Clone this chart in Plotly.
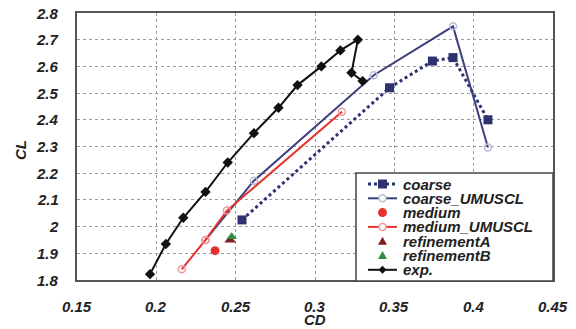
import plotly.graph_objects as go

# ---- data -------------------------------------------------------------
exp_cd = [0.196, 0.206, 0.217, 0.231, 0.245, 0.2615, 0.277, 0.289, 0.304, 0.316, 0.327, 0.323, 0.330]
exp_cl = [1.822, 1.935, 2.033, 2.13, 2.24, 2.35, 2.445, 2.53, 2.60, 2.66, 2.70, 2.576, 2.545]

coarse_cd = [0.254, 0.347, 0.374, 0.387, 0.409]
coarse_cl = [2.025, 2.52, 2.62, 2.633, 2.40]

coarse_umuscl_cd = [0.231, 0.2615, 0.337, 0.387, 0.409]
coarse_umuscl_cl = [1.95, 2.172, 2.567, 2.75, 2.296]

medium_cd = [0.237]
medium_cl = [1.91]

medium_umuscl_cd = [0.216, 0.231, 0.2445, 0.317]
medium_umuscl_cl = [1.84, 1.95, 2.06, 2.43]

refA_cd = [0.2465]
refA_cl = [1.950]

refB_cd = [0.2475]
refB_cl = [1.962]

x_ticks = [0.15, 0.2, 0.25, 0.3, 0.35, 0.4, 0.45]
x_ticktext = ["0.15", "0.2", "0.25", "0.3", "0.35", "0.4", "0.45"]
y_ticks = [1.8, 1.9, 2.0, 2.1, 2.2, 2.3, 2.4, 2.5, 2.6, 2.7, 2.8]
y_ticktext = ["1.8", "1.9", "2", "2.1", "2.2", "2.3", "2.4", "2.5", "2.6", "2.7", "2.8"]

# ---- styles -----------------------------------------------------------
NAVY = "#2e3170"
NAVY_LINE = "#3b3f7c"
RED = "#e5322d"
PINK = "#f29a9a"
DARKRED = "#7d1f1f"
GREEN = "#2f8f45"
BLACK = "#111111"
TXT = "#222222"
FONT = "Liberation Sans"

W, H = 576, 329
ML, MR, MT, MB = 77, 23, 13, 49
PW, PH = W - ML - MR, H - MT - MB


def px(x):
    return (x - ML) / PW


def py(y):
    return (H - MB - y) / PH


def bi(s):
    return f"<b><i>{s}</i></b>"


fig = go.Figure()

fig.add_trace(go.Scatter(x=coarse_cd, y=coarse_cl, mode="lines+markers", name="coarse",
                         line=dict(color=NAVY, width=3, dash="dot"),
                         marker=dict(symbol="square", size=9, color=NAVY)))
fig.add_trace(go.Scatter(x=coarse_umuscl_cd, y=coarse_umuscl_cl, mode="lines+markers",
                         name="coarse_UMUSCL",
                         line=dict(color=NAVY_LINE, width=2),
                         marker=dict(symbol="circle-open", size=7, color="#b9bdd8",
                                     line=dict(width=1.5))))
fig.add_trace(go.Scatter(x=medium_umuscl_cd, y=medium_umuscl_cl, mode="lines+markers",
                         name="medium_UMUSCL",
                         line=dict(color=RED, width=2),
                         marker=dict(symbol="circle-open", size=7, color=PINK,
                                     line=dict(width=1.5))))
fig.add_trace(go.Scatter(x=medium_cd, y=medium_cl, mode="markers", name="medium",
                         marker=dict(symbol="circle", size=9, color=RED)))
fig.add_trace(go.Scatter(x=refA_cd, y=refA_cl, mode="markers", name="refinementA",
                         marker=dict(symbol="triangle-up", size=10, color=DARKRED)))
fig.add_trace(go.Scatter(x=refB_cd, y=refB_cl, mode="markers", name="refinementB",
                         marker=dict(symbol="triangle-up", size=9, color=GREEN)))
fig.add_trace(go.Scatter(x=exp_cd, y=exp_cl, mode="lines+markers", name="exp.",
                         line=dict(color=BLACK, width=2),
                         marker=dict(symbol="diamond", size=8, color=BLACK)))

fig.update_xaxes(range=[0.15, 0.45], tickvals=x_ticks, showticklabels=False,
                 showgrid=True, gridcolor="#9a9a9a", griddash="dot", gridwidth=1,
                 showline=True, mirror=True, linecolor="#555555", linewidth=2,
                 ticks="", zeroline=False, automargin=False)
fig.update_yaxes(range=[1.8, 2.8], tickvals=y_ticks, showticklabels=False,
                 showgrid=True, gridcolor="#9a9a9a", griddash="dot", gridwidth=1,
                 showline=True, mirror=True, linecolor="#555555", linewidth=2,
                 ticks="", zeroline=False, automargin=False)

shapes = []
annotations = []
label_font = dict(family=FONT, size=15, color=TXT)

# ---- tick labels (bold italic), positioned on the axis scales -----------
for v, t in zip(x_ticks, x_ticktext):
    annotations.append(dict(text=bi(t), xref="x", yref="paper", x=v, y=py(306),
                            xanchor="center", yanchor="middle", showarrow=False,
                            font=label_font))
for v, t in zip(y_ticks, y_ticktext):
    annotations.append(dict(text=bi(t), xref="paper", yref="y", x=px(61), y=v,
                            xanchor="right", yanchor="middle", showarrow=False,
                            font=label_font))

# ---- legend box drawn as shapes + annotations ---------------------------
box = dict(x0=356, x1=553, y0=173, y1=281)
shapes.append(dict(type="rect", xref="paper", yref="paper", layer="above",
                   x0=px(box["x0"]), x1=px(box["x1"]), y0=py(box["y1"]), y1=py(box["y0"]),
                   fillcolor="white", line=dict(color="#444444", width=1.5)))

legend_items = [
    ("coarse", dict(line=NAVY, dash="dot", lw=3, marker="square", mcolor=NAVY)),
    ("coarse_UMUSCL", dict(line=NAVY_LINE, dash="solid", lw=2, marker="ocircle", mcolor="#b9bdd8")),
    ("medium", dict(line=None, marker="circle", mcolor=RED)),
    ("medium_UMUSCL", dict(line=RED, dash="solid", lw=2, marker="ocircle", mcolor=PINK)),
    ("refinementA", dict(line=None, marker="triangle", mcolor=DARKRED)),
    ("refinementB", dict(line=None, marker="triangle", mcolor=GREEN)),
    ("exp.", dict(line=BLACK, dash="solid", lw=2, marker="diamond", mcolor=BLACK)),
]

row0, row_step = 184, 14.3
sx0, sx1, sxm, tx = 368, 397, 382.5, 401
for i, (label, st) in enumerate(legend_items):
    yc = row0 + i * row_step
    if st["line"]:
        shapes.append(dict(type="line", xref="paper", yref="paper", layer="above",
                           x0=px(sx0), x1=px(sx1), y0=py(yc), y1=py(yc),
                           line=dict(color=st["line"], width=st["lw"], dash=st["dash"])))
    m = st["marker"]
    c = st["mcolor"]
    if m == "square":
        r = 4.5
        shapes.append(dict(type="rect", xref="paper", yref="paper", layer="above",
                           x0=px(sxm - r), x1=px(sxm + r), y0=py(yc + r), y1=py(yc - r),
                           fillcolor=c, line=dict(width=0)))
    elif m == "circle":
        r = 4.5
        shapes.append(dict(type="circle", xref="paper", yref="paper", layer="above",
                           x0=px(sxm - r), x1=px(sxm + r), y0=py(yc + r), y1=py(yc - r),
                           fillcolor=c, line=dict(width=0)))
    elif m == "ocircle":
        r = 3.5
        shapes.append(dict(type="circle", xref="paper", yref="paper", layer="above",
                           x0=px(sxm - r), x1=px(sxm + r), y0=py(yc + r), y1=py(yc - r),
                           fillcolor="white", line=dict(color=c, width=1.5)))
    elif m == "triangle":
        r = 4.5
        path = (f"M {px(sxm - r)},{py(yc + r * 0.8)} L {px(sxm + r)},{py(yc + r * 0.8)} "
                f"L {px(sxm)},{py(yc - r)} Z")
        shapes.append(dict(type="path", xref="paper", yref="paper", layer="above",
                           path=path, fillcolor=c, line=dict(width=0)))
    elif m == "diamond":
        r = 4
        path = (f"M {px(sxm - r)},{py(yc)} L {px(sxm)},{py(yc - r)} "
                f"L {px(sxm + r)},{py(yc)} L {px(sxm)},{py(yc + r)} Z")
        shapes.append(dict(type="path", xref="paper", yref="paper", layer="above",
                           path=path, fillcolor=c, line=dict(width=0)))
    annotations.append(dict(text=bi(label), xref="paper", yref="paper", x=px(tx), y=py(yc),
                            xanchor="left", yanchor="middle", showarrow=False,
                            font=label_font))

# ---- axis titles --------------------------------------------------------
annotations.append(dict(text=bi("CD"), xref="paper", yref="paper", x=px(315), y=py(319),
                        xanchor="center", yanchor="middle", showarrow=False,
                        font=label_font))
annotations.append(dict(text=bi("CL"), xref="paper", yref="paper", x=px(21), y=py(150),
                        xanchor="center", yanchor="middle", showarrow=False, textangle=-90,
                        font=label_font))

fig.update_layout(width=W, height=H, margin=dict(l=ML, r=MR, t=MT, b=MB),
                  paper_bgcolor="white", plot_bgcolor="white", showlegend=False,
                  shapes=shapes, annotations=annotations)

fig.write_html("out.html")
